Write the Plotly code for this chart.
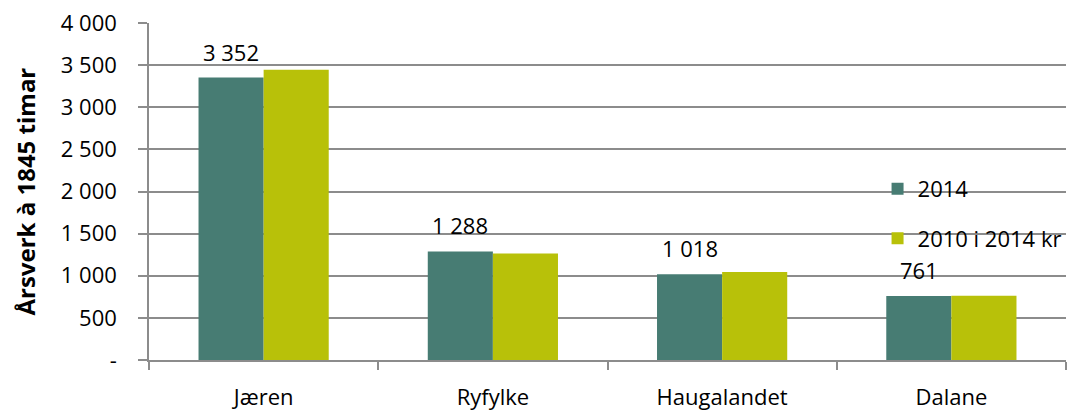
import plotly.graph_objects as go

categories = ["Jæren", "Ryfylke", "Haugalandet", "Dalane"]
series_names = ["2014", "2010 i 2014 kr"]
values_2014 = [3352, 1288, 1018, 761]
values_2010 = [3445, 1265, 1045, 762]
label_texts = ["3 352", "1 288", "1 018", "761"]
y_tickvals = [0, 500, 1000, 1500, 2000, 2500, 3000, 3500, 4000]
y_ticktext = ["-", "500", "1 000", "1 500", "2 000", "2 500", "3 000", "3 500", "4 000"]
y_title = "Årsverk à 1845 timar"

C_2014 = "#477C73"
C_2010 = "#B8C109"
GRID = "#8C8C8C"
FONT = "Open Sans"
FS = 22

fig = go.Figure()
fig.add_trace(go.Bar(x=categories, y=values_2014, name=series_names[0],
                     marker=dict(color=C_2014, line=dict(width=0)),
                     legendgroup="a"))
fig.add_trace(go.Bar(x=categories, y=values_2010, name=series_names[1],
                     marker=dict(color=C_2010, line=dict(width=0)),
                     legendgroup="b"))

# data labels above 2014 bars
for cat, v, t in zip(categories, values_2014, label_texts):
    fig.add_annotation(x=cat, y=v, text=t, showarrow=False,
                       xshift=-32.5, yshift=9, yanchor="bottom",
                       font=dict(family=FONT, size=FS, color="#000000"))

fig.add_annotation(text="<b>" + y_title + "</b>", textangle=-90,
                   xref="paper", yref="paper", x=-0.1352, y=0.5,
                   xanchor="center", yanchor="middle", showarrow=False,
                   font=dict(family=FONT, size=24, color="#000000"))

fig.update_layout(
    width=1071, height=410,
    margin=dict(l=149, r=5, t=23, b=50, autoexpand=False),
    paper_bgcolor="white", plot_bgcolor="white",
    barmode="group", bargap=0.432, bargroupgap=0,
    font=dict(family=FONT, size=FS, color="#000000"),
    legend=dict(x=0.7945, y=0.57, xanchor="left", yanchor="top",
                bgcolor="rgba(0,0,0,0)", traceorder="grouped",
                tracegroupgap=18, font=dict(family=FONT, size=FS)),
    xaxis=dict(type="category", showgrid=False, showline=True,
               linecolor=GRID, linewidth=1.5, ticks="outside",
               tickson="boundaries", ticklen=8, tickcolor=GRID,
               tickwidth=1.5, ticklabelstandoff=17, automargin=False,
               tickfont=dict(family=FONT, size=FS)),
    yaxis=dict(range=[0, 4000], tickvals=y_tickvals, ticktext=y_ticktext,
               showgrid=True, gridcolor=GRID, gridwidth=1.5,
               showline=True, linecolor=GRID, linewidth=1.5,
               ticks="outside", ticklen=9, tickcolor=GRID, tickwidth=1.5,
               ticklabelstandoff=17, zeroline=False, automargin=False,
               ticklabeloverflow="allow",
               tickfont=dict(family=FONT, size=FS)),
)

# remove the browser's default 8px body margin so the figure fills the window
fig.write_html("out.html",
               config={"displayModeBar": False},
               post_script="document.body.style.margin='0';document.body.style.overflow='hidden';")
